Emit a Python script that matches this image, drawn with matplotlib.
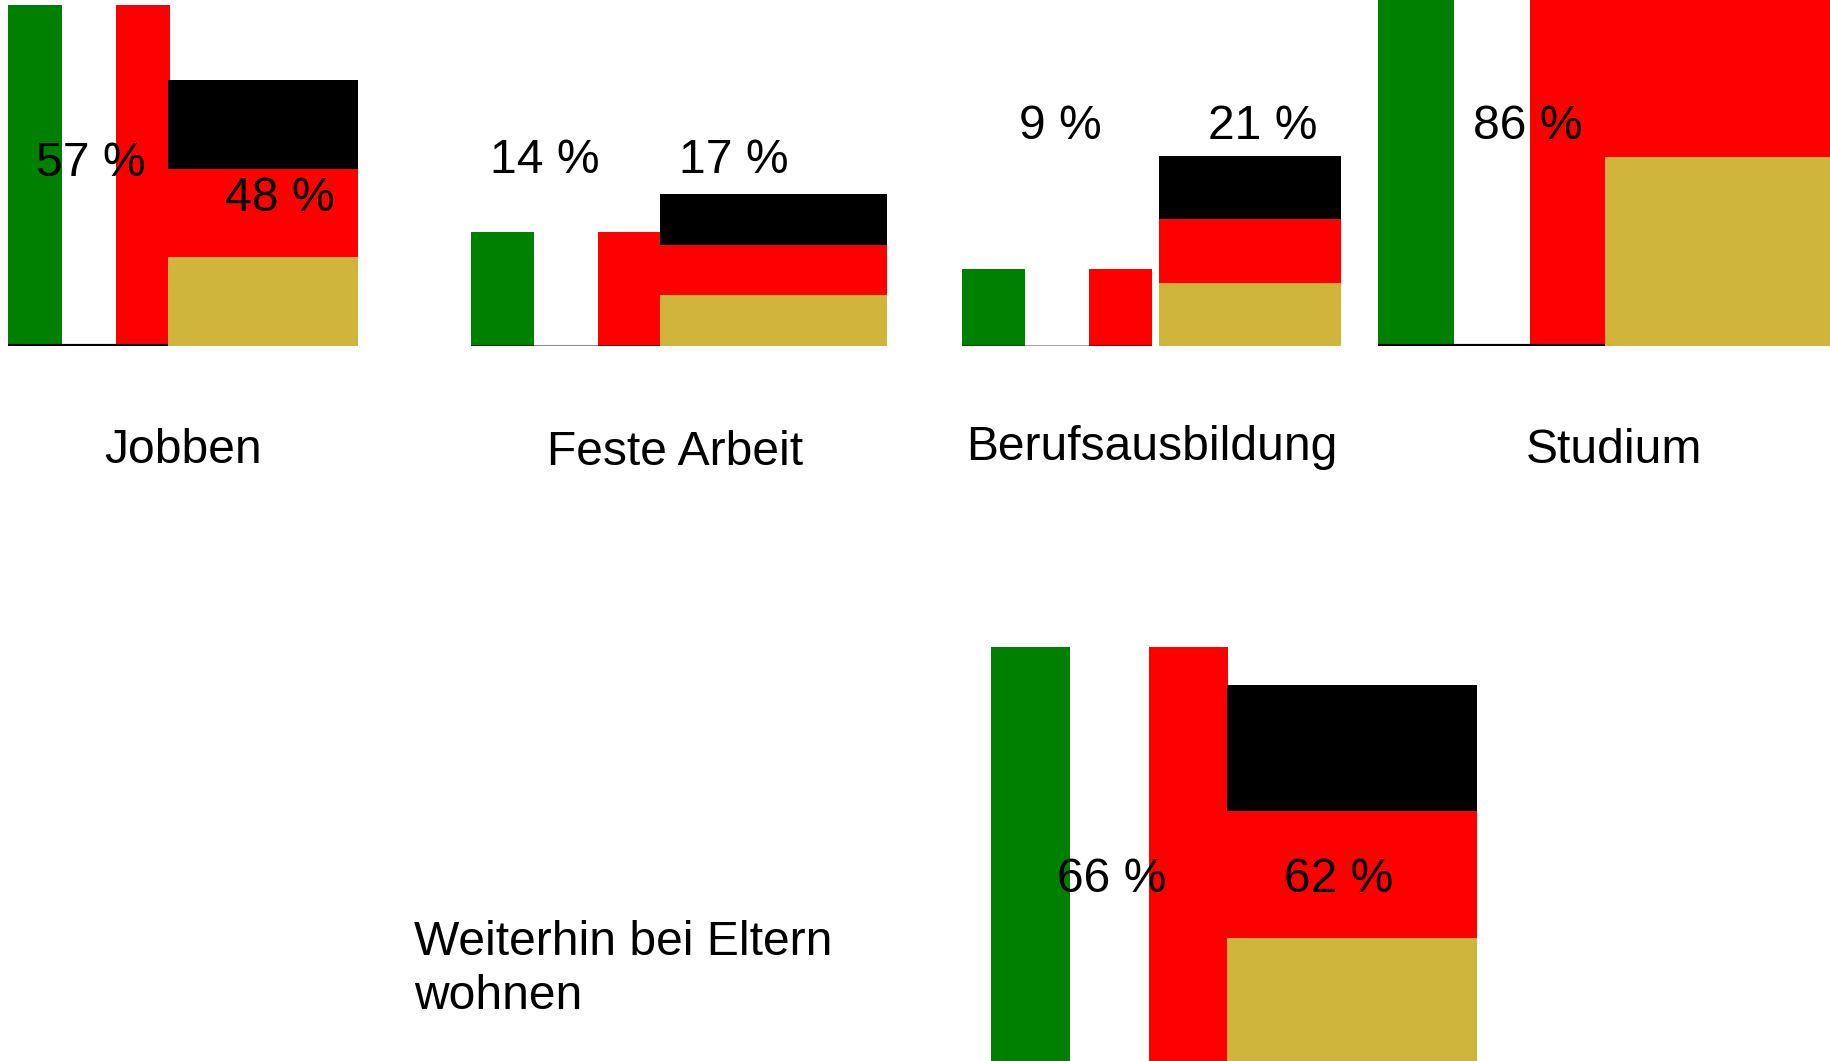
import matplotlib
matplotlib.use('Agg')
import matplotlib.pyplot as plt

plt.rcParams['font.family'] = ['Liberation Sans', 'DejaVu Sans']

W, H = 1830, 1061
FONT_SIZE = 34.6

categories = ['Jobben', 'Feste Arbeit', 'Berufsausbildung', 'Studium', 'Weiterhin bei Eltern\nwohnen']
italy_values = [57, 14, 9, 86, 66]
# no german label is visible for Studium, the flag runs off the top, so this one is a guess
germany_values = [48, 17, 21, 93, 62]
germany_labels = ['48 %', '17 %', '21 %', None, '62 %']

# flag boxes in image pixels: left, right, top, bottom
italy_boxes = [
    (8, 170, 5, 346),
    (471, 661, 232, 346),
    (962, 1152, 269, 346),
    (1378, 1606, -170, 346),
    (991, 1228, 647, 1064),
]
germany_boxes = [
    (168, 358, 80, 346),
    (660, 887, 194, 346),
    (1159, 1341, 156, 346),
    (1605, 1830, -221, 346),
    (1227, 1477, 685, 1064),
]

# left edge and baseline of the texts
italy_label_pos = [(36, 176), (490, 173), (1019, 139), (1473, 139), (1057, 892)]
germany_label_pos = [(225, 211), (679, 173), (1208, 139), None, (1284, 892)]
category_pos = [(104, 463), (547, 465), (966, 460), (1526, 463), (414, 1009)]

# line under the italian flags: width, alpha
baseline_style = [(3.0, 1.0), (1.5, 0.45), (1.5, 0.35), (3.0, 1.0), (1.5, 0.45)]

ITALY = ['#008000', '#ffffff', '#ff0000']
GERMANY = ['#cfb53b', '#ff0000', '#000000']

fig = plt.figure(figsize=(W / 100, H / 100), dpi=100)


def flag_axes(box, value):
    left, right, top, bottom = box
    ax = fig.add_axes([left / W, 1 - bottom / H, (right - left) / W, (bottom - top) / H])
    ax.set_ylim(0, value)
    ax.axis('off')
    return ax


for i in range(len(categories)):
    ax = flag_axes(italy_boxes[i], italy_values[i])
    ax.bar([0, 1, 2], [italy_values[i]] * 3, width=1, align='edge', color=ITALY)
    ax.set_xlim(0, 3)
    lw, alpha = baseline_style[i]
    ax.axhline(0, color='black', lw=lw, alpha=alpha)

    ax = flag_axes(germany_boxes[i], germany_values[i])
    stripe = germany_values[i] / 3
    for j, c in enumerate(GERMANY):
        ax.bar(0, stripe, bottom=j * stripe, width=1, align='edge', color=c)
    ax.set_xlim(0, 1)

# text layer in image pixels, on top of the flags
txt = fig.add_axes([0, 0, 1, 1])
txt.set_xlim(0, W)
txt.set_ylim(H, 0)
txt.axis('off')
txt.patch.set_alpha(0)

for i, name in enumerate(categories):
    x, y = category_pos[i]
    txt.text(x, y, name, fontsize=FONT_SIZE, va='baseline', ha='left', linespacing=1.27)
    x, y = italy_label_pos[i]
    txt.text(x, y, f'{italy_values[i]} %', fontsize=FONT_SIZE, va='baseline', ha='left')
    if germany_labels[i]:
        x, y = germany_label_pos[i]
        txt.text(x, y, germany_labels[i], fontsize=FONT_SIZE, va='baseline', ha='left')

fig.savefig('out.png', dpi=100)
